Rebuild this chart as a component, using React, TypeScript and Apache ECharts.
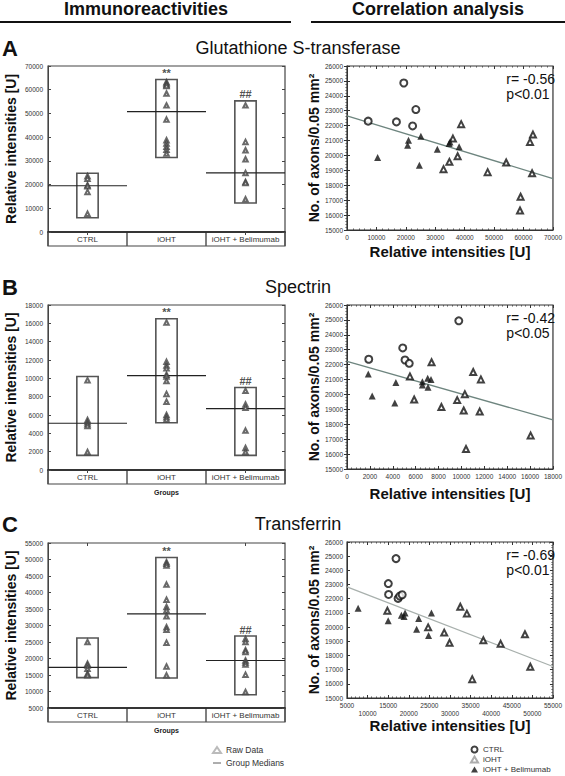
import React, { useEffect, useRef } from 'react';
import * as echarts from 'echarts';

const FONT = '"Liberation Sans", Arial, Helvetica, sans-serif';
const cats = ['CTRL', 'iOHT', 'iOHT + Belimumab'];

// ---------- Panel A : Glutathione S-transferase ----------
const rawA_ctrl = [23500, 22500, 19700, 19300, 16900, 7700];
const rawA_ioht = [63200, 62600, 62000, 61600, 58400, 53400, 47400, 38700, 37300, 35900, 34700, 33100];
const rawA_bel = [53400, 38000, 34500, 30700, 24900, 21100, 20700, 13800];
const boxLowA = [6000, 31400, 12200];
const boxHighA = [24800, 64300, 55300];
const medianA = [19500, 50800, 24900];
const sigA = ['', '**', '##'];

const scA_ctrl = [[7200, 22300], [16800, 22250], [19300, 24860], [22300, 21980], [23400, 23080]];
const scA_ioht = [[32800, 19080], [34800, 19570], [36000, 21130], [37600, 19950], [38800, 22100], [47800, 18880], [54100, 19530], [59000, 17230], [58800, 16310], [62200, 20910], [63200, 21400], [62900, 18810]];
const scA_bel = [[10400, 19860], [20600, 20690], [20900, 21020], [24600, 19350], [25100, 21290], [30700, 20420], [34700, 20800], [35000, 20910], [38100, 20580]];
const fitA = [[0, 22650], [70000, 18450]];
const statA = ['r= -0.56', 'p<0.01'];

// ---------- Panel B : Spectrin ----------
const rawB_ctrl = [9800, 5450, 5200, 5000, 4800, 1960];
const rawB_ioht = [16100, 11800, 11400, 11100, 10400, 10200, 9700, 8300, 7450, 6000, 5750, 5500];
const rawB_bel = [8650, 7150, 6800, 4300, 2400, 1960];
const boxLowB = [1600, 5150, 1600];
const boxHighB = [10200, 16500, 9000];
const medianB = [5100, 10300, 6700];
const sigB = ['', '**', '##'];

const scB_ctrl = [[1900, 22360], [4870, 23120], [5070, 22310], [5440, 22090], [9770, 24940]];
const scB_ioht = [[5500, 21210], [5870, 19660], [7390, 22160], [8250, 19160], [9630, 19620], [10200, 18920], [10300, 20020], [10400, 16340], [11030, 21510], [11600, 18850], [11700, 21010], [16050, 17240]];
const scB_bel = [[1860, 21370], [2200, 19890], [4180, 19420], [4270, 20810], [6590, 20850], [6590, 20630], [7050, 21080], [7080, 20490], [7340, 21000]];
const fitB = [[0, 22220], [18000, 18290]];
const statB = ['r= -0.42', 'p<0.05'];

// ---------- Panel C : Transferrin ----------
const rawC_ctrl = [25000, 18400, 17900, 16900, 15400, 14900];
const rawC_ioht = [49200, 48700, 48200, 42400, 37800, 35600, 34600, 32800, 29500, 28700, 24800, 17600, 14900];
const rawC_bel = [25900, 25000, 22500, 22000, 19400, 18800, 18200, 15100, 9850];
const boxLowC = [14200, 14100, 9000];
const boxHighC = [26200, 50600, 26800];
const medianC = [17300, 33500, 19400];
const sigC = ['', '**', '##'];

const scC_ctrl = [[15030, 23070], [15100, 22300], [16900, 24830], [17400, 22020], [17800, 22190], [18400, 22280]];
const scC_ioht = [[14800, 21150], [24700, 19980], [28600, 19610], [29900, 18890], [32500, 21430], [35400, 16330], [34100, 20950], [38100, 19070], [42300, 18820], [48200, 19500], [49500, 17200]];
const scC_bel = [[7700, 21320], [15000, 20450], [18200, 20830], [18850, 20740], [19100, 21000], [21900, 19840], [22400, 20600], [24800, 19400], [25500, 21000]];
const fitC = [[5000, 22840], [55000, 17220]];
const statC = ['r= -0.69', 'p<0.01'];

const plain = (v: number) => String(v);

function buildOption() {
  const grids: any[] = [];
  const xAxes: any[] = [];
  const yAxes: any[] = [];
  const series: any[] = [];
  const graphics: any[] = [];

  const addBoxPanel = (cfg: any) => {
    const gMain = grids.length;
    grids.push({ left: 48, top: cfg.top, width: 237, height: cfg.height, show: true, borderColor: '#444', borderWidth: 1.2 });
    const gBand = grids.length;
    grids.push({ left: 48, top: cfg.top + cfg.height, width: 237, height: 14, show: true, borderColor: '#444', borderWidth: 1.2 });
    const xMain = xAxes.length;
    xAxes.push({
      type: 'category', gridIndex: gMain, data: cats, boundaryGap: true,
      axisLabel: { show: false }, axisTick: { show: false },
      axisLine: { lineStyle: { color: '#222', width: 1.5 } },
      name: cfg.groups ? 'Groups' : '', nameLocation: 'middle', nameGap: 19,
      nameTextStyle: { fontSize: 7, fontWeight: 'bold', color: '#222', fontFamily: FONT },
    });
    // top mirror axis: small ticks at category centres
    xAxes.push({
      type: 'category', gridIndex: gMain, data: cats, position: 'top', boundaryGap: true,
      axisLabel: { show: false }, axisLine: { show: false },
      axisTick: { show: true, inside: true, alignWithLabel: true, length: 3, lineStyle: { color: '#444' } },
    });
    xAxes.push({
      type: 'category', gridIndex: gBand, data: cats, position: 'top', boundaryGap: true,
      axisLine: { show: false }, axisTick: { show: false },
      axisLabel: { inside: true, margin: 3, fontSize: 8, color: '#333', interval: 0, fontFamily: FONT },
      splitLine: { show: true, interval: 0, lineStyle: { color: '#555', width: 1.5 } },
    });
    const yMain = yAxes.length;
    yAxes.push({
      type: 'value', gridIndex: gMain, min: cfg.min, max: cfg.max, interval: cfg.interval,
      axisLine: { show: true, lineStyle: { color: '#444' } },
      axisTick: { show: true, inside: true, length: 3, lineStyle: { color: '#444' } },
      axisLabel: { fontSize: 6.5, color: '#333', margin: 5, fontFamily: FONT, formatter: plain },
      splitLine: { show: false },
      name: 'Relative intensities [U]', nameLocation: 'middle', nameGap: 30,
      nameTextStyle: { fontSize: 14, fontWeight: 'bold', color: '#111', fontFamily: FONT },
    });
    yAxes.push({
      type: 'value', gridIndex: gMain, position: 'right', min: cfg.min, max: cfg.max, interval: cfg.interval,
      axisLine: { show: false }, axisLabel: { show: false }, splitLine: { show: false },
      axisTick: { show: true, inside: true, length: 3, lineStyle: { color: '#444' } },
    });
    yAxes.push({ type: 'value', gridIndex: gBand, show: false });

    const boxData = cfg.low.map((lo: number, i: number) => [i, lo, cfg.high[i], cfg.med[i]]);
    series.push({
      type: 'custom', name: 'Group Medians', xAxisIndex: xMain, yAxisIndex: yMain,
      data: boxData, encode: { x: 0, y: [1, 2, 3] },
      renderItem: (_p: any, api: any) => {
        const x = api.value(0);
        const top = api.coord([x, api.value(2)]);
        const bot = api.coord([x, api.value(1)]);
        const med = api.coord([x, api.value(3)]);
        const bandW = api.size([1, 0])[0];
        const bw = bandW * 0.27;
        return {
          type: 'group',
          children: [
            { type: 'rect', shape: { x: top[0] - bw / 2, y: top[1], width: bw, height: bot[1] - top[1] }, style: { fill: 'none', stroke: '#555', lineWidth: 1.6 } },
            { type: 'line', shape: { x1: med[0] - bandW / 2, y1: med[1], x2: med[0] + bandW / 2, y2: med[1] }, style: { stroke: '#222', lineWidth: 1.2 } },
          ],
        };
      },
      z: 2,
    });
    const raw: number[][] = [];
    cfg.raw.forEach((arr: number[], i: number) => arr.forEach((v) => raw.push([i, v])));
    series.push({
      type: 'scatter', name: 'Raw Data', xAxisIndex: xMain, yAxisIndex: yMain,
      data: raw, symbol: 'emptyTriangle', symbolSize: 4.5,
      itemStyle: { color: '#444', borderWidth: 0.7 }, z: 3,
    });
    series.push({
      type: 'scatter', name: 'sig', xAxisIndex: xMain, yAxisIndex: yMain, symbolSize: 0,
      data: cfg.sig.map((s: string, i: number) => ({ value: [i, cfg.high[i]], label: { show: s !== '', formatter: s } })),
      label: { position: 'top', distance: 1, fontSize: 11, fontWeight: 'bold', color: '#222', fontFamily: FONT },
      silent: true,
    });
  };

  const addScatterPanel = (cfg: any) => {
    const g = grids.length;
    grids.push({ left: 347, top: cfg.top, width: 210, height: cfg.height, show: true, borderColor: '#333', borderWidth: 1.2 });
    const xi = xAxes.length;
    xAxes.push({
      type: 'value', gridIndex: g, min: cfg.xmin, max: cfg.xmax, interval: cfg.xint,
      axisLine: { show: true, lineStyle: { color: '#333' } },
      axisTick: { show: true, inside: true, length: 3, lineStyle: { color: '#333' } },
      minorTick: { show: true, splitNumber: 5, length: 1.5, lineStyle: { color: '#555' } },
      axisLabel: {
        fontSize: 6.5, color: '#333', margin: 3, lineHeight: 8, fontFamily: FONT,
        formatter: cfg.alt ? (v: number, idx: number) => (idx % 2 === 1 ? '\n' + v : String(v)) : plain,
      },
      splitLine: { show: false },
      name: 'Relative intensities [U]', nameLocation: 'middle', nameGap: cfg.nameGap,
      nameTextStyle: { fontSize: 15, fontWeight: 'bold', color: '#111', fontFamily: FONT, verticalAlign: 'top' },
    });
    xAxes.push({
      type: 'value', gridIndex: g, position: 'top', min: cfg.xmin, max: cfg.xmax, interval: cfg.xint,
      axisLine: { show: false }, axisLabel: { show: false }, splitLine: { show: false },
      axisTick: { show: true, inside: true, length: 3, lineStyle: { color: '#333' } },
      minorTick: { show: true, splitNumber: 5, length: 1.5, lineStyle: { color: '#555' } },
    });
    const yi = yAxes.length;
    yAxes.push({
      type: 'value', gridIndex: g, min: 15000, max: 26000, interval: 1000,
      axisLine: { show: true, lineStyle: { color: '#333' } },
      axisTick: { show: true, inside: true, length: 3, lineStyle: { color: '#333' } },
      axisLabel: { fontSize: 6.5, color: '#333', margin: 4, fontFamily: FONT, formatter: plain },
      splitLine: { show: false },
      name: 'No. of axons/0.05 mm\u00B2', nameLocation: 'middle', nameGap: 21,
      nameTextStyle: { fontSize: 14, fontWeight: 'bold', color: '#111', fontFamily: FONT },
    });
    yAxes.push({
      type: 'value', gridIndex: g, position: 'right', min: 15000, max: 26000, interval: 1000,
      axisLine: { show: false }, axisLabel: { show: false }, splitLine: { show: false },
      axisTick: { show: true, inside: true, length: 3, lineStyle: { color: '#333' } },
      minorTick: { show: true, splitNumber: 5, length: 1.5, lineStyle: { color: '#555' } },
    });
    series.push({
      type: 'line', name: 'fit', xAxisIndex: xi, yAxisIndex: yi, data: cfg.fit, symbol: 'none',
      lineStyle: { color: cfg.fitColor, width: 1.3 }, silent: true, z: 1,
    });
    series.push({
      type: 'scatter', name: 'CTRL', xAxisIndex: xi, yAxisIndex: yi, data: cfg.ctrl,
      symbol: 'emptyCircle', symbolSize: 7, itemStyle: { color: '#111', borderWidth: 1.8 }, z: 3,
    });
    series.push({
      type: 'scatter', name: 'iOHT', xAxisIndex: xi, yAxisIndex: yi, data: cfg.ioht,
      symbol: 'emptyTriangle', symbolSize: 6, itemStyle: { color: '#111', borderWidth: 1.2 }, z: 3,
    });
    series.push({
      type: 'scatter', name: 'iOHT + Belimumab', xAxisIndex: xi, yAxisIndex: yi, data: cfg.bel,
      symbol: 'triangle', symbolSize: 7, itemStyle: { color: '#111' }, z: 3,
    });
    graphics.push({
      type: 'text', right: 10, top: cfg.top + 5,
      style: { text: cfg.stat.join('\n'), align: 'right', fontSize: 14, lineHeight: 15, fill: '#111', fontFamily: FONT },
    });
  };

  addBoxPanel({ top: 66, height: 166, min: 0, max: 70000, interval: 10000, raw: [rawA_ctrl, rawA_ioht, rawA_bel], low: boxLowA, high: boxHighA, med: medianA, sig: sigA, groups: false });
  addScatterPanel({ top: 66, height: 164, xmin: 0, xmax: 70000, xint: 10000, ctrl: scA_ctrl, ioht: scA_ioht, bel: scA_bel, fit: fitA, stat: statA, nameGap: 14, fitColor: '#6e857f' });
  addBoxPanel({ top: 305, height: 165, min: 0, max: 18000, interval: 2000, raw: [rawB_ctrl, rawB_ioht, rawB_bel], low: boxLowB, high: boxHighB, med: medianB, sig: sigB, groups: true });
  addScatterPanel({ top: 305, height: 164, xmin: 0, xmax: 18000, xint: 2000, ctrl: scB_ctrl, ioht: scB_ioht, bel: scB_bel, fit: fitB, stat: statB, nameGap: 17, fitColor: '#6e857f' });
  addBoxPanel({ top: 543, height: 165, min: 5000, max: 55000, interval: 5000, raw: [rawC_ctrl, rawC_ioht, rawC_bel], low: boxLowC, high: boxHighC, med: medianC, sig: sigC, groups: true });
  addScatterPanel({ top: 542, height: 156, xmin: 5000, xmax: 55000, xint: 5000, ctrl: scC_ctrl, ioht: scC_ioht, bel: scC_bel, fit: fitC, stat: statC, nameGap: 15, fitColor: '#a8b0ad', alt: true });

  // headers
  const hdr = { fontSize: 18, fontWeight: 'bold', fill: '#111', fontFamily: FONT, align: 'center', verticalAlign: 'middle' };
  graphics.push({ type: 'text', x: 146, y: 9, style: { ...hdr, text: 'Immunoreactivities' } });
  graphics.push({ type: 'text', x: 438, y: 9, style: { ...hdr, text: 'Correlation analysis' } });
  graphics.push({ type: 'line', shape: { x1: 0, y1: 22, x2: 291, y2: 22 }, style: { stroke: '#111', lineWidth: 2 } });
  graphics.push({ type: 'line', shape: { x1: 311, y1: 22, x2: 565, y2: 22 }, style: { stroke: '#111', lineWidth: 2 } });

  const titles = [['A', 'Glutathione S-transferase', 48], ['B', 'Spectrin', 287], ['C', 'Transferrin', 524]];
  titles.forEach(([l, t, y]) => {
    graphics.push({ type: 'text', x: 2, y: y as number, style: { text: l as string, fontSize: 22, fontWeight: 'bold', fill: '#111', fontFamily: FONT, verticalAlign: 'middle' } });
    graphics.push({ type: 'text', x: 298, y: y as number, style: { text: t as string, fontSize: 18, fill: '#111', fontFamily: FONT, align: 'center', verticalAlign: 'middle' } });
  });

  return {
    animation: false,
    backgroundColor: '#fff',
    textStyle: { fontFamily: FONT },
    grid: grids,
    xAxis: xAxes,
    yAxis: yAxes,
    series,
    graphic: graphics,
    legend: [
      {
        left: 212, top: 745, orient: 'vertical', itemWidth: 8, itemHeight: 6, itemGap: 3, padding: 0,
        textStyle: { fontSize: 8.5, lineHeight: 10, color: '#333', fontFamily: FONT },
        selectedMode: false,
        data: [
          { name: 'Raw Data', icon: 'emptyTriangle', itemStyle: { color: '#aaa', borderColor: '#aaa' } },
          { name: 'Group Medians', icon: 'path://M0 0H10V1H0Z', itemStyle: { color: '#333' } },
        ],
      },
      {
        left: 470, top: 745, orient: 'vertical', itemWidth: 7, itemHeight: 6, itemGap: 1, padding: 0, height: 31,
        textStyle: { fontSize: 8, lineHeight: 9, color: '#333', fontFamily: FONT },
        selectedMode: false,
        data: [
          { name: 'CTRL', icon: 'emptyCircle' },
          { name: 'iOHT', icon: 'emptyTriangle', itemStyle: { color: '#999', borderColor: '#999' } },
          { name: 'iOHT + Belimumab', icon: 'triangle' },
        ],
      },
    ],
  };
}

export default function App() {
  const ref = useRef<HTMLDivElement>(null);
  useEffect(() => {
    const chart = echarts.init(ref.current!, null, { renderer: 'svg' });
    chart.setOption(buildOption() as any);
    return () => chart.dispose();
  }, []);
  return <div ref={ref} style={{ position: 'absolute', left: 0, top: 0, width: 565, height: 776, background: '#fff' }} />;
}
